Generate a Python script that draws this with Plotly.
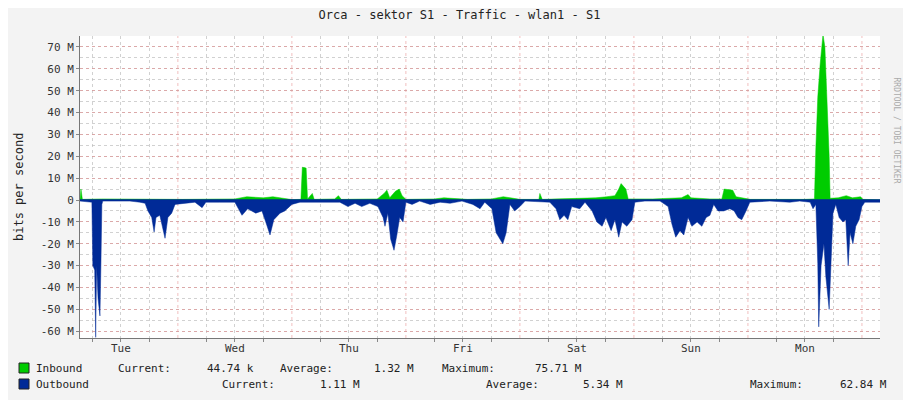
import plotly.graph_objects as go

# hours since Tue 00:00
out_h = [3.4,5.1,5.9,6.1,6.5,6.7,6.9,7.2,7.4,7.6,7.8,8.0,8.2,11.8,13.9,16.0,17.1,17.7,18.5,19.0,19.4,20.2,21.3,21.9,22.7,23.4,
         25.5,27.6,29.1,29.9,32.8,36.0,37.5,38.7,40.4,41.7,42.5,43.4,44.2,45.5,46.5,48.0,49.7,53.9,58.1,59.8,61.3,62.7,64.4,66.1,
         67.2,67.6,68.2,68.8,69.5,70.1,70.7,71.4,72.0,73.3,74.9,77.1,79.2,81.3,83.8,86.1,87.6,88.6,90.1,91.0,91.8,92.4,93.1,93.9,
         94.9,96.0,97.1,100.2,102.3,103.6,104.4,105.3,106.1,106.9,108.6,109.7,111.2,112.2,113.3,114.1,115.2,116.0,116.8,117.5,
         118.5,119.6,120.2,122.3,125.5,127.2,128.0,128.8,129.7,130.5,131.4,132.2,133.3,134.3,135.2,136.0,136.8,137.7,138.9,140.2,
         141.1,141.9,142.7,143.6,144.4,148.6,152.8,154.9,157.1,157.7,158.3,158.7,158.9,159.4,160.0,160.4,161.1,161.5,161.9,162.5,
         163.2,164.0,164.6,165.1,165.5,166.1,166.7,167.4,168.0,168.6,171.8]
out_v = [-0.5,-1,-1,-30,-32,-62.8,-30,-45,-51,-53,-30,-2,-0.5,-0.3,-0.5,-1,-1.5,-5,-8,-14.6,-8,-7,-17.5,-8,-6,-2,
         -1.5,-1,-3.5,-1,-1,-1,-7,-4,-6,-5,-10,-16,-9,-6,-5,-2,-1,-1,-1,-3,-1.5,-3,-1.5,-3,
         -8,-12,-6,-18,-23,-16,-8,-10,-1,-2,-0.5,-2,-1,-1.5,-0.5,-2,-4,-1,-4,-15,-18,-20,-15,-2,
         -5,-3,-0.5,-1,-1,-4,-9,-7,-9,-3,-4,-1,-5,-10,-12,-8,-14,-9,-17,-10,
         -12,-9,-1,-0.5,-0.5,-3,-11,-17,-14,-16,-8,-12,-10,-12,-8,-7,-2,-5,-5,-4,
         -5,-8,-9,-5,-1,-0.5,-1,-0.5,-1,-4,-2,-29,-58,-30,-20,-35,-50,-28,-6,-2,
         -8,-10,-9,-30,-15,-20,-12,-9,-3,-1,-1]

in_h = [3.4,3.6,3.9,8,25,36,38.5,42,44,48,49.9,50.2,51.0,51.3,52.3,52.7,57,57.8,58.4,66,67.4,68,68.6,69.8,70.6,71.2,72,78,80,
        85,90,92.5,94,96,100,100.2,100.7,106,112,114.3,116,116.8,117.3,118.3,118.8,124,130,131.4,132,136,138.5,139,140.8,141.5,
        143,144.5,156,158.0,158.3,158.7,159.2,159.8,160.2,160.7,161.1,161.3,163,164.7,166,167.7,168.2,171.8]
in_v = [0.2,5,0.3,0.5,0.3,0.5,1.5,1,1.5,0.2,0.3,15,14.6,0.5,3,0.3,0.5,2,0.3,0.5,3,4.5,1,4,5,2,0.3,0.5,1,
        0.3,0.5,1.5,1,0.3,0.3,3,0.3,0.5,1,1.5,2,5,7.5,5,0.5,0.5,1,2.5,1,0.5,0.5,5,4.5,1.5,
        1,0.3,0.3,0.5,24,47,62,75.7,70,45,20,0.8,1,2,1,1.5,0.3,0.1]

day_pos = [12, 36, 60, 84, 108, 132, 156]
day_labels = ["Tue", "Wed", "Thu", "Fri", "Sat", "Sun", "Mon"]
y_ticks = [70, 60, 50, 40, 30, 20, 10, 0, -10, -20, -30, -40, -50, -60]
y_labels = [f"{v} M" if v != 0 else "0" for v in y_ticks]

MONO = "DejaVu Sans Mono"
OFF = 8  # page body margin
W, H = 911 - OFF, 400 - OFF
L, R, T, B = 80 - OFF, 31, 36 - OFF, 62
pw, ph = W - L - R, H - T - B
def px(xp): return (xp - OFF - L) / pw
def py(yp): return (H - B - (yp - OFF)) / ph

fig = go.Figure()
fig.add_trace(go.Scatter(x=in_h, y=in_v, fill="tozeroy", mode="lines",
                         line=dict(color="#00CC00", width=0.5), fillcolor="#00CC00"))
fig.add_trace(go.Scatter(x=out_h, y=out_v, fill="tozeroy", mode="lines",
                         line=dict(color="#002A97", width=0.5), fillcolor="#002A97"))

X0, X1 = 3.4, 171.8
shapes = []
for d in range(1, 8):
    shapes.append(dict(type="line", xref="x", yref="paper", x0=d*24, x1=d*24, y0=0, y1=1,
                       line=dict(color="rgba(230,130,130,0.5)", width=1, dash="dot"), layer="below"))
shapes.append(dict(type="line", xref="x", yref="y", x0=X0, x1=X1, y0=0, y1=0,
                   line=dict(color="#002A97", width=1.5)))
for yp, col in [(368, "#00CC00"), (384, "#002A97")]:
    shapes.append(dict(type="rect", xref="paper", yref="paper", x0=px(19), x1=px(29), y0=py(yp + 5), y1=py(yp - 5),
                       fillcolor=col, line=dict(color="#222", width=1)))

fig.update_layout(
    width=W, height=H, showlegend=False,
    paper_bgcolor="#F3F3F3", plot_bgcolor="#FFFFFF",
    margin=dict(l=L, r=R, t=T, b=B, autoexpand=False),
    font=dict(family=MONO, size=11, color="#333"),
    title=dict(text="Orca - sektor S1 - Traffic - wlan1 - S1", x=0.5, xanchor="center",
               y=1 - (15 - OFF) / H, yanchor="middle", yref="container",
               font=dict(family=MONO, size=12, color="#222")),
    xaxis=dict(range=[X0, X1], tickvals=day_pos, ticktext=day_labels, showgrid=False, zeroline=False, automargin=False,
               ticks="", showline=True, linecolor="#777", linewidth=1, tickfont=dict(size=11, family=MONO),
               minor=dict(tickvals=[h for h in range(6, 172, 6) if h % 24], showgrid=True,
                          gridcolor="rgba(190,190,190,0.7)", griddash="dot", ticks="outside", ticklen=3, tickcolor="#888")),
    yaxis=dict(range=[-63.1, 75], tickvals=y_ticks, ticktext=y_labels, gridcolor="rgba(230,130,130,0.5)",
               griddash="dot", zeroline=False, showline=True, linecolor="#777", ticks="outside", ticklen=3,
               tickcolor="#888", tickfont=dict(size=11, family=MONO), automargin=False, showticklabels=True),
    shapes=shapes,
)
fig.update_yaxes(minor=dict(dtick=5, tick0=0, showgrid=True, gridcolor="rgba(190,190,190,0.7)", griddash="dot"))
ann = [dict(text="RRDTOOL / TOBI OETIKER", x=px(903), y=py(75), xref="paper", yref="paper", textangle=90,
            showarrow=False, font=dict(size=8, color="#AAAAAA", family=MONO)),
       dict(text="bits per second", x=px(10), y=py(187), xref="paper", yref="paper", textangle=-90,
            showarrow=False, font=dict(size=12, family=MONO, color="#222"))]
row1 = [(34, "Inbound"), (116, "Current:"), (205, "44.74 k"), (278, "Average:"), (372, "1.32 M"), (440, "Maximum:"), (533, "75.71 M")]
row2 = [(34, "Outbound"), (220, "Current:"), (318, "1.11 M"), (484, "Average:"), (581, "5.34 M"), (748, "Maximum:"), (838, "62.84 M")]
for yp, row in [(368, row1), (384, row2)]:
    for xp, t in row:
        ann.append(dict(text=t, x=px(xp), y=py(yp), xref="paper", yref="paper", xanchor="left", yanchor="middle",
                        showarrow=False, font=dict(size=11, family=MONO, color="#222")))
fig.update_layout(annotations=ann)
fig.write_html("out.html")
